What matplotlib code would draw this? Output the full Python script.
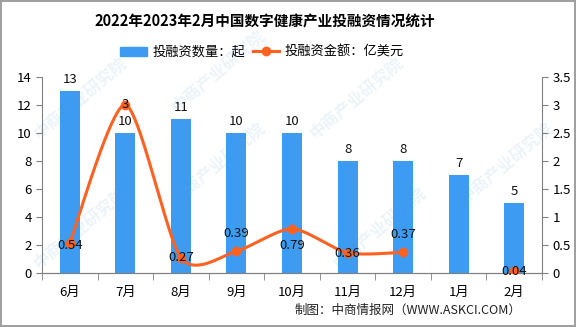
import numpy as np
import matplotlib
matplotlib.use("Agg")
import matplotlib.pyplot as plt
from matplotlib.lines import Line2D
from matplotlib.patches import Patch

plt.rcParams['font.family'] = ['Noto Sans CJK SC', 'DejaVu Sans']

# 投融资数据
months = ["6月", "7月", "8月", "9月", "10月", "11月", "12月", "1月", "2月"]
deal_counts = [13, 10, 11, 10, 10, 8, 8, 7, 5]
amounts = [0.54, 3, 0.27, 0.39, 0.79, 0.36, 0.37, None, 0.04]
amount_labels = ["0.54", "3", "0.27", "0.39", "0.79", "0.36", "0.37", "", "0.04"]

BAR_COLOR = "#3d9cf2"
LINE_COLOR = "#ff6121"
AXIS_COLOR = "#808080"


def smooth_curve(xs, ys, tension=0.75, steps=40):
    """基数样条平滑曲线"""
    xs = np.asarray(xs, float)
    ys = np.asarray(ys, float)
    n = len(xs)
    mx, my = np.zeros(n), np.zeros(n)
    for i in range(n):
        a, b = max(i - 1, 0), min(i + 1, n - 1)
        mx[i] = tension * (xs[b] - xs[a]) / 2
        my[i] = tension * (ys[b] - ys[a]) / 2
    out_x, out_y = [], []
    t = np.linspace(0, 1, steps)
    h00 = 2 * t**3 - 3 * t**2 + 1
    h10 = t**3 - 2 * t**2 + t
    h01 = -2 * t**3 + 3 * t**2
    h11 = t**3 - t**2
    for i in range(n - 1):
        out_x.extend(h00 * xs[i] + h10 * mx[i] + h01 * xs[i + 1] + h11 * mx[i + 1])
        out_y.extend(h00 * ys[i] + h10 * my[i] + h01 * ys[i + 1] + h11 * my[i + 1])
    return np.array(out_x), np.array(out_y)


fig = plt.figure(figsize=(5.76, 3.27), dpi=100)
fig.patch.set_edgecolor("#a0a0a0")
fig.patch.set_linewidth(1.5)

ax = fig.add_axes([0.073, 0.165, 0.868, 0.6])
ax2 = ax.twinx()

x = np.arange(len(months))
ax.bar(x, deal_counts, width=0.36, color=BAR_COLOR, zorder=2)
for xi, v in zip(x, deal_counts):
    ax.text(xi, v + 0.35, str(v), ha="center", va="bottom", fontsize=9.5, color="#111111")

ax.set_xlim(-0.5, len(months) - 0.5)
ax.set_ylim(0, 14)
ax.set_yticks(range(0, 15, 2))
ax.set_xticks(x)
ax.set_xticklabels(months, fontsize=9.5)
ax.set_xticks(np.arange(-0.5, len(months), 1), minor=True)
ax.tick_params(axis="x", which="major", length=0, pad=9)
ax.tick_params(axis="x", which="minor", length=5, color=AXIS_COLOR)
ax.tick_params(axis="y", labelsize=9.5, length=4, color=AXIS_COLOR)

# 金额折线（1月缺失）
sx, sy = smooth_curve(x[:7], amounts[:7])
ax2.plot(sx, sy, color=LINE_COLOR, lw=2.2, zorder=3)
pts = [(xi, a) for xi, a in zip(x, amounts) if a is not None]
ax2.plot([p[0] for p in pts], [p[1] for p in pts], "o", color=LINE_COLOR, ms=6, zorder=4)

label_offsets = [-0.05, 0, 0, 0.32, -0.3, -0.02, 0.32, 0, -0.01]
for xi, a, lab, off in zip(x, amounts, amount_labels, label_offsets):
    if a is None:
        continue
    ax2.text(xi, a + off, lab, ha="center", va="center", fontsize=9.5, color="#111111", zorder=5)

ax2.set_ylim(0, 3.5)
ax2.set_yticks(np.arange(0, 3.51, 0.5))
ax2.set_yticklabels(["0", "0.5", "1", "1.5", "2", "2.5", "3", "3.5"])
ax2.tick_params(axis="y", labelsize=9.5, length=4, color=AXIS_COLOR)

for a in (ax, ax2):
    a.spines["top"].set_visible(False)
    for s in ("left", "right", "bottom"):
        a.spines[s].set_color(AXIS_COLOR)
ax.spines["right"].set_visible(False)
ax2.spines["left"].set_visible(False)

fig.text(0.46, 0.935, "2022年2023年2月中国数字健康产业投融资情况统计",
         ha="center", va="center", fontsize=10.5, fontweight="bold")

handles = [Patch(color=BAR_COLOR),
           Line2D([0], [0], color=LINE_COLOR, lw=2.2, marker="o", ms=6)]
fig.legend(handles, ["投融资数量：起", "投融资金额：亿美元"], loc="center",
           bbox_to_anchor=(0.455, 0.84), ncol=2, frameon=False, fontsize=9.5,
           handlelength=2.0, columnspacing=0.6, handletextpad=0.4)

fig.text(0.905, 0.05, "制图：中商情报网（WWW.ASKCI.COM）", ha="right", va="center",
         fontsize=9, color="#222222")

# 水印
for wx, wy in [(0.14, 0.3), (0.38, 0.5), (0.62, 0.7), (0.66, 0.3), (0.88, 0.5), (0.38, 0.78), (0.14, 0.7)]:
    fig.text(wx, wy, "中商产业研究院", rotation=40, fontsize=12, color="#4a90c8",
             alpha=0.1, ha="center", va="center", fontweight="bold")

fig.savefig("out.png", dpi=100)
